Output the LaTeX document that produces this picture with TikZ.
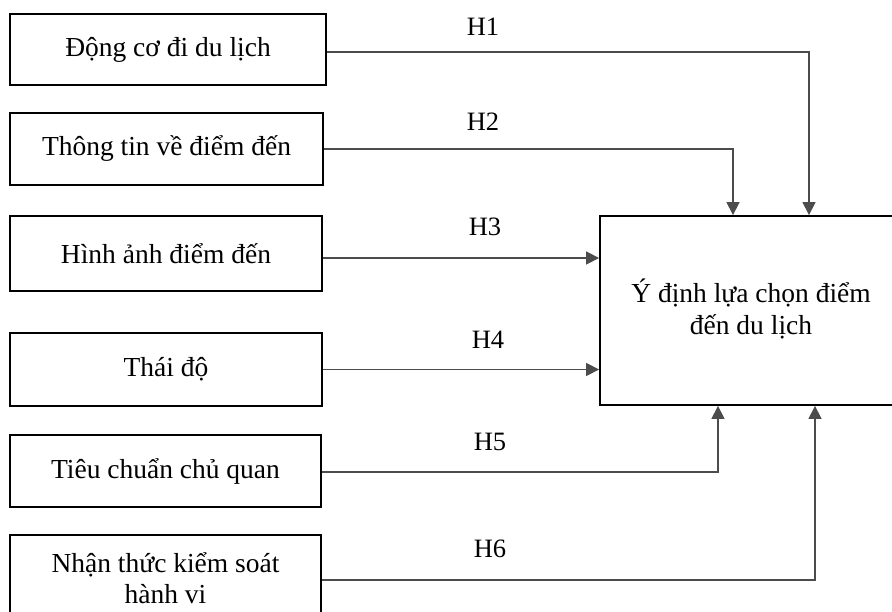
\documentclass[tikz,border=0pt]{standalone}
\usepackage{fontspec}
\setmainfont{Liberation Serif}
\usetikzlibrary{arrows.meta}
\tikzset{
  x=1pt, y=-1pt,
  leftbox/.style={draw=black, line width=1.8pt, inner sep=0pt, align=center,
    font=\fontsize{27.5}{31}\selectfont},
  conn/.style={draw=black!70, line width=1.3pt},
  arr/.style={conn, -{Triangle[length=13pt,width=13pt]}},
  hlab/.style={font=\fontsize{26.5}{31}\selectfont, inner sep=0pt}
}
\begin{document}
\begin{tikzpicture}
\useasboundingbox (0,0) rectangle (892,612);
\clip (0,0) rectangle (892,612);
\node[leftbox, minimum width=316pt, minimum height=71pt] (b1) at (168,49.5) {Động cơ đi du lịch};
\node[leftbox, minimum width=313pt, minimum height=72pt] (b2) at (166.5,149) {Thông tin về điểm đến};
\node[leftbox, minimum width=312pt, minimum height=75pt] (b3) at (166,253.5) {Hình ảnh điểm đến};
\node[leftbox, minimum width=312pt, minimum height=73pt] (b4) at (166,369.5) {Thái độ};
\node[leftbox, minimum width=311pt, minimum height=72pt] (b5) at (165.5,471) {Tiêu chuẩn chủ quan};
\node[leftbox, minimum width=311pt, minimum height=86pt] (b6) at (165.5,578) {Nhận thức kiểm soát\\hành vi};
\node[leftbox, minimum width=310pt, minimum height=189pt] (yd) at (755,310.5) {};
\node[font=\fontsize{27.5}{32}\selectfont, align=center, inner sep=0pt] (ydt) at (751,309) {Ý định lựa chọn điểm\\đến du lịch};
\coordinate (c1) at (809,0);
\coordinate (c2) at (733,0);
\coordinate (c5) at (718,0);
\coordinate (c6) at (815,0);
\coordinate (s1) at ([yshift=-2.5pt]b1.east);
\coordinate (s3) at ([yshift=-4.5pt]b3.east);
\coordinate (s5) at ([yshift=-1pt]b5.east);
\coordinate (s6) at ([yshift=-2pt]b6.east);
\draw[arr] (s1) -| (c1 |- yd.north);
\draw[arr] (b2.east) -| (c2 |- yd.north);
\draw[arr] (s3) -- (yd.west |- s3);
\draw[arr] (b4.east) -- (yd.west |- b4.east);
\draw[arr] (s5) -| (c5 |- yd.south);
\draw[arr] (s6) -| (c6 |- yd.south);
\node[hlab] (h1) at (483,27) {H1};
\node[hlab] (h2) at (483,122) {H2};
\node[hlab] (h3) at (485,227) {H3};
\node[hlab] (h4) at (488,340) {H4};
\node[hlab] (h5) at (490,442) {H5};
\node[hlab] (h6) at (490,549) {H6};
\end{tikzpicture}
\end{document}
